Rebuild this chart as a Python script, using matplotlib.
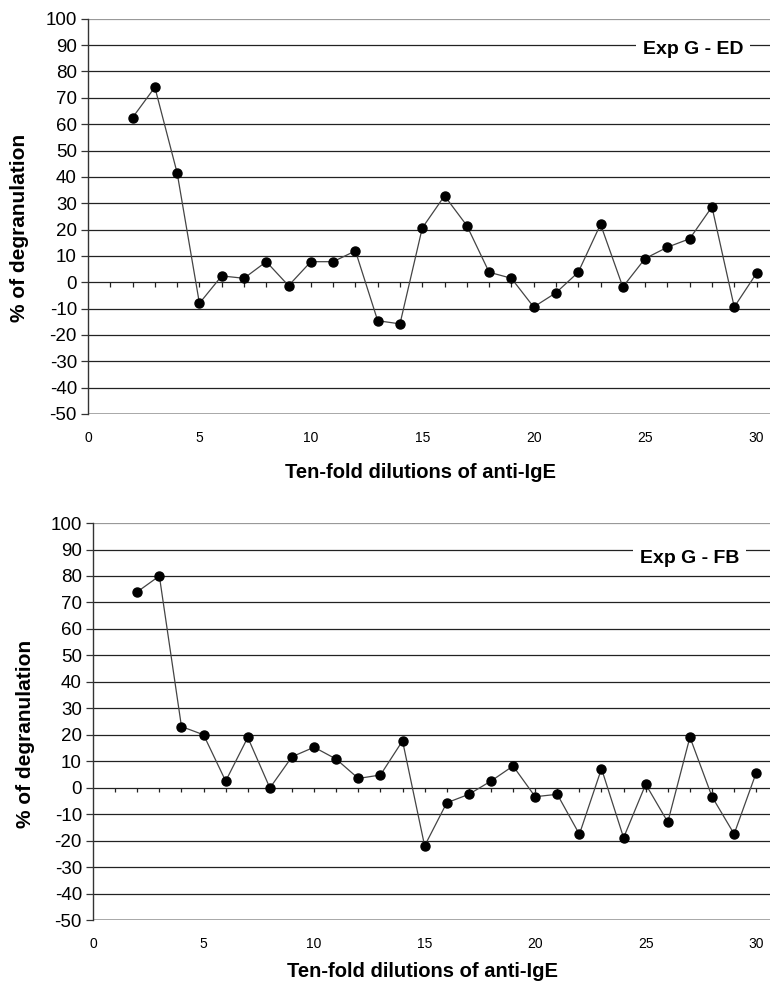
import matplotlib
matplotlib.use("Agg")
import matplotlib.pyplot as plt

# dilution steps (ten-fold) and % degranulation for the two experiments
dilutions = list(range(2, 31))
exp_ed = [62.5, 74, 41.5, -8, 2.4, 1.5, 7.8, -1.3, 7.8, 7.8, 11.9, -14.6, -15.8, 20.6,
          32.8, 21.5, 3.8, 1.5, -9.4, -4, 3.8, 22, -1.8, 9, 13.3, 16.5, 28.6, -9.4, 3.4]
exp_fb = [74, 80, 23.1, 20, 2.5, 19, -0.1, 11.7, 15.3, 10.8, 3.5, 4.8, 17.7, -22,
          -5.7, -2.5, 2.5, 8.2, -3.4, -2.5, -17.6, 7.2, -18.9, 1.3, -13, 19.1, -3.4, -17.5, 5.7]
panel_labels = ["Exp G - ED", "Exp G - FB"]
y_ticks = list(range(-50, 101, 10))
x_ticks = list(range(0, 31, 5))
minor_x = list(range(1, 31))

plt.rcParams["font.family"] = ["Liberation Sans", "DejaVu Sans"]

fig = plt.figure(figsize=(7.74, 9.88), dpi=100)
ax_top = fig.add_axes([0.1137, 0.581, 0.881, 0.400])
ax_bot = fig.add_axes([0.1202, 0.0688, 0.874, 0.4018])


def draw_panel(ax, values, label, label_xy, xlabel_y):
    ax.set_xlim(0, 30.6)
    ax.set_ylim(-50, 100)

    for v in y_ticks[1:-1]:
        ax.axhline(v, color="#222222", lw=0.9, zorder=1)
    ax.axhline(100, color="#999999", lw=0.9, zorder=1)
    ax.axhline(-50, color="#999999", lw=1.2, zorder=1)

    # small ticks hanging under the zero line
    ax.vlines(minor_x, -1.8, 0, color="#222222", lw=0.9, zorder=1)

    ax.plot(dilutions, values, color="#444444", lw=0.9, marker="o",
            markersize=6.5, markerfacecolor="black", markeredgecolor="black",
            zorder=3)

    for side in ["top", "right", "bottom"]:
        ax.spines[side].set_visible(False)
    ax.spines["left"].set_color("#333333")
    ax.spines["left"].set_linewidth(1.0)

    ax.set_yticks(y_ticks)
    ax.set_yticklabels([str(v) for v in y_ticks], fontsize=13.5)
    ax.tick_params(axis="y", direction="out", length=5, width=0.9,
                   color="#333333", pad=3)
    ax.set_xticks(x_ticks)
    ax.set_xticklabels([str(v) for v in x_ticks], fontsize=10)
    ax.tick_params(axis="x", length=0, pad=12)

    ax.set_ylabel("% of degranulation", fontsize=15, fontweight="bold")
    ax.yaxis.set_label_coords(-0.086, 0.47)
    ax.set_xlabel("Ten-fold dilutions of anti-IgE", fontsize=14.5, fontweight="bold")
    ax.xaxis.set_label_coords(0.487, xlabel_y)

    ax.text(label_xy[0], label_xy[1], label, transform=ax.transAxes,
            fontsize=14, fontweight="bold", ha="center", va="center",
            bbox=dict(facecolor="white", edgecolor="none", pad=5), zorder=4)


draw_panel(ax_top, exp_ed, panel_labels[0], (0.887, 0.922), -0.125)
draw_panel(ax_bot, exp_fb, panel_labels[1], (0.882, 0.91), -0.106)

fig.savefig("out.png", dpi=100)
